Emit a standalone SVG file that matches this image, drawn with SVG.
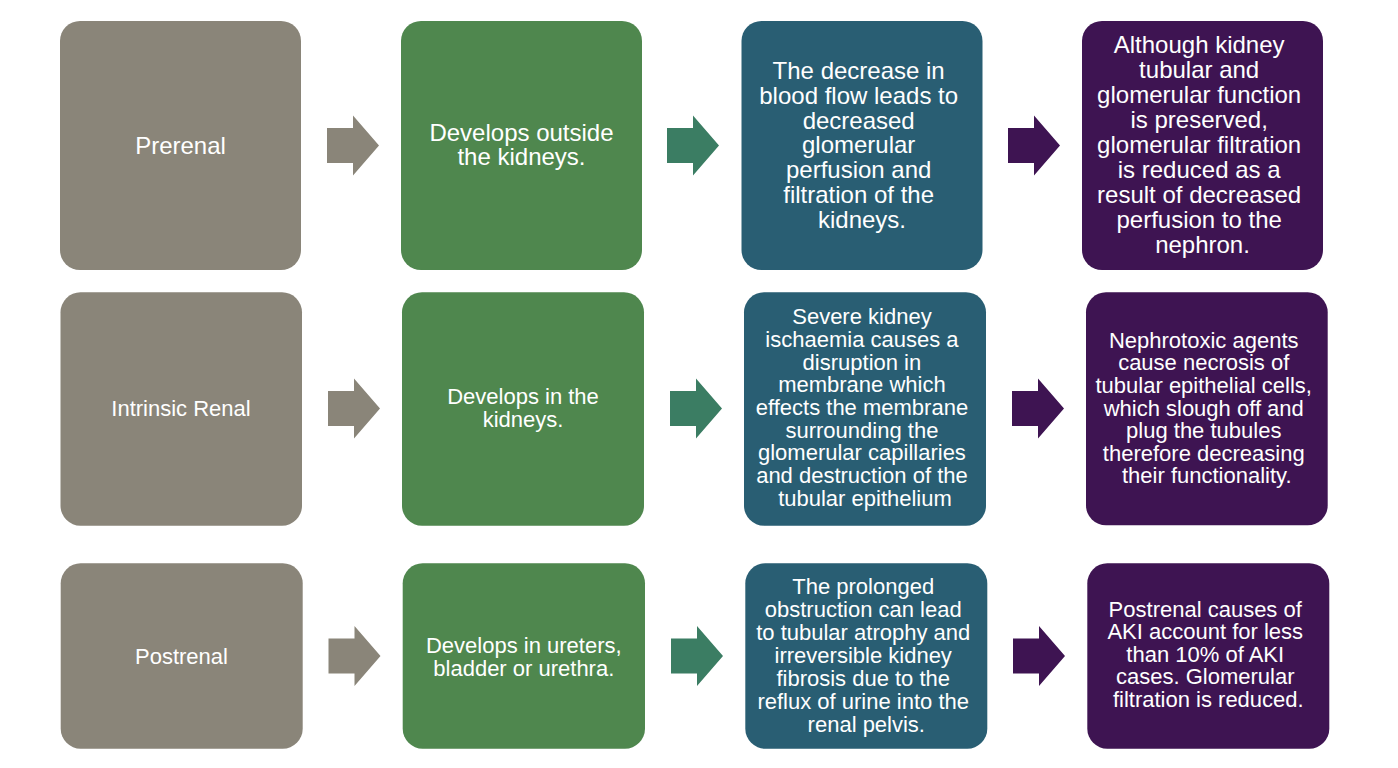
<svg xmlns="http://www.w3.org/2000/svg" width="1398" height="768" viewBox="0 0 1398 768">
<style>
  .t { font-family: "Liberation Sans", Arial, sans-serif; fill: #ffffff; text-anchor: middle; }
  .f24 { font-size: 24px; }
  .f22 { font-size: 22px; }
  .gray { fill: #8A8579; }
  .green { fill: #4F874E; }
  .teal { fill: #295E73; }
  .purple { fill: #3E1452; }
  .agreen { fill: #3B7D63; }
</style>
<defs>
  <path id="arr" d="M0,-17.5 H26 V-30 L52,0 L26,30 V17.5 H0 Z"/>
</defs>
<rect width="1398" height="768" fill="#ffffff"/>

<g id="connectors">
  <use href="#arr" class="gray" transform="translate(327,145.5)"/>
  <use href="#arr" class="agreen" transform="translate(667,145.5)"/>
  <use href="#arr" class="purple" transform="translate(1008,145.5)"/>
  <use href="#arr" class="gray" transform="translate(328,408.5)"/>
  <use href="#arr" class="agreen" transform="translate(670,408.5)"/>
  <use href="#arr" class="purple" transform="translate(1012,408.5)"/>
  <use href="#arr" class="gray" transform="translate(328.5,656)"/>
  <use href="#arr" class="agreen" transform="translate(671,656)"/>
  <use href="#arr" class="purple" transform="translate(1013,656)"/>
</g>

<g id="prerenal">
  <rect class="gray" x="60" y="21" width="241" height="249" rx="20"/>
  <text class="t f24" x="180.5" y="154">Prerenal</text>
</g>
<g id="prerenal-site">
  <rect class="green" x="401" y="21" width="241" height="249" rx="20"/>
  <text class="t f24"><tspan x="521.5" y="140.7">Develops outside</tspan><tspan x="521.5" y="165">the kidneys.</tspan></text>
</g>
<g id="prerenal-mech">
  <rect class="teal" x="741.5" y="21" width="241" height="249" rx="20"/>
  <text class="t f24">
    <tspan x="862" y="79">The decrease in</tspan>
    <tspan x="862" y="103.8">blood flow leads to</tspan>
    <tspan x="862" y="128.6">decreased</tspan>
    <tspan x="862" y="153.4">glomerular</tspan>
    <tspan x="862" y="178.2">perfusion and</tspan>
    <tspan x="862" y="203">filtration of the</tspan>
    <tspan x="862" y="227.8">kidneys.</tspan>
  </text>
</g>
<g id="prerenal-effect">
  <rect class="purple" x="1082" y="21" width="241" height="249" rx="20"/>
  <text class="t f24">
    <tspan x="1202.5" y="53.3">Although kidney</tspan>
    <tspan x="1202.5" y="78.2">tubular and</tspan>
    <tspan x="1202.5" y="103.1">glomerular function</tspan>
    <tspan x="1202.5" y="128">is preserved,</tspan>
    <tspan x="1202.5" y="152.9">glomerular filtration</tspan>
    <tspan x="1202.5" y="177.8">is reduced as a</tspan>
    <tspan x="1202.5" y="202.7">result of decreased</tspan>
    <tspan x="1202.5" y="227.6">perfusion to the</tspan>
    <tspan x="1202.5" y="252.5">nephron.</tspan>
  </text>
</g>

<g id="intrinsic">
  <rect class="gray" x="60.5" y="292.3" width="241.5" height="233.4" rx="20"/>
  <text class="t f22" x="181" y="415.7">Intrinsic Renal</text>
</g>
<g id="intrinsic-site">
  <rect class="green" x="402" y="292.3" width="242" height="233.4" rx="20"/>
  <text class="t f22"><tspan x="523" y="404.3">Develops in the</tspan><tspan x="523" y="426.7">kidneys.</tspan></text>
</g>
<g id="intrinsic-mech">
  <rect class="teal" x="744" y="292.3" width="242" height="233.4" rx="20"/>
  <text class="t f22">
    <tspan x="865" y="324.3">Severe kidney</tspan>
    <tspan x="865" y="347">ischaemia causes a</tspan>
    <tspan x="865" y="369.6">disruption in</tspan>
    <tspan x="865" y="392.3">membrane which</tspan>
    <tspan x="865" y="415">effects the membrane</tspan>
    <tspan x="865" y="437.7">surrounding the</tspan>
    <tspan x="865" y="460.3">glomerular capillaries</tspan>
    <tspan x="865" y="483">and destruction of the</tspan>
    <tspan x="865" y="505.7">tubular epithelium</tspan>
  </text>
</g>
<g id="intrinsic-effect">
  <rect class="purple" x="1086" y="292.3" width="241.7" height="233" rx="20"/>
  <text class="t f22">
    <tspan x="1206.8" y="347.7">Nephrotoxic agents</tspan>
    <tspan x="1206.8" y="370.3">cause necrosis of</tspan>
    <tspan x="1206.8" y="392.9">tubular epithelial cells,</tspan>
    <tspan x="1206.8" y="415.5">which slough off and</tspan>
    <tspan x="1206.8" y="438.1">plug the tubules</tspan>
    <tspan x="1206.8" y="460.7">therefore decreasing</tspan>
    <tspan x="1206.8" y="483.3">their functionality.</tspan>
  </text>
</g>

<g id="postrenal">
  <rect class="gray" x="60.7" y="563.3" width="242" height="185.4" rx="20"/>
  <text class="t f22" x="181.5" y="664">Postrenal</text>
</g>
<g id="postrenal-site">
  <rect class="green" x="402.7" y="563.3" width="242.3" height="185.4" rx="20"/>
  <text class="t f22"><tspan x="523.8" y="653.3">Develops in ureters,</tspan><tspan x="523.8" y="676">bladder or urethra.</tspan></text>
</g>
<g id="postrenal-mech">
  <rect class="teal" x="745.3" y="563.3" width="242" height="185.4" rx="20"/>
  <text class="t f22">
    <tspan x="866.3" y="594">The prolonged</tspan>
    <tspan x="866.3" y="617">obstruction can lead</tspan>
    <tspan x="866.3" y="639.9">to tubular atrophy and</tspan>
    <tspan x="866.3" y="662.9">irreversible kidney</tspan>
    <tspan x="866.3" y="685.8">fibrosis due to the</tspan>
    <tspan x="866.3" y="708.8">reflux of urine into the</tspan>
    <tspan x="866.3" y="731.7">renal pelvis.</tspan>
  </text>
</g>
<g id="postrenal-effect">
  <rect class="purple" x="1087.3" y="563.3" width="242" height="185.4" rx="20"/>
  <text class="t f22">
    <tspan x="1208.3" y="616.7">Postrenal causes of</tspan>
    <tspan x="1208.3" y="639.2">AKI account for less</tspan>
    <tspan x="1208.3" y="661.7">than 10% of AKI</tspan>
    <tspan x="1208.3" y="684.2">cases. Glomerular</tspan>
    <tspan x="1208.3" y="706.7">filtration is reduced.</tspan>
  </text>
</g>
</svg>
